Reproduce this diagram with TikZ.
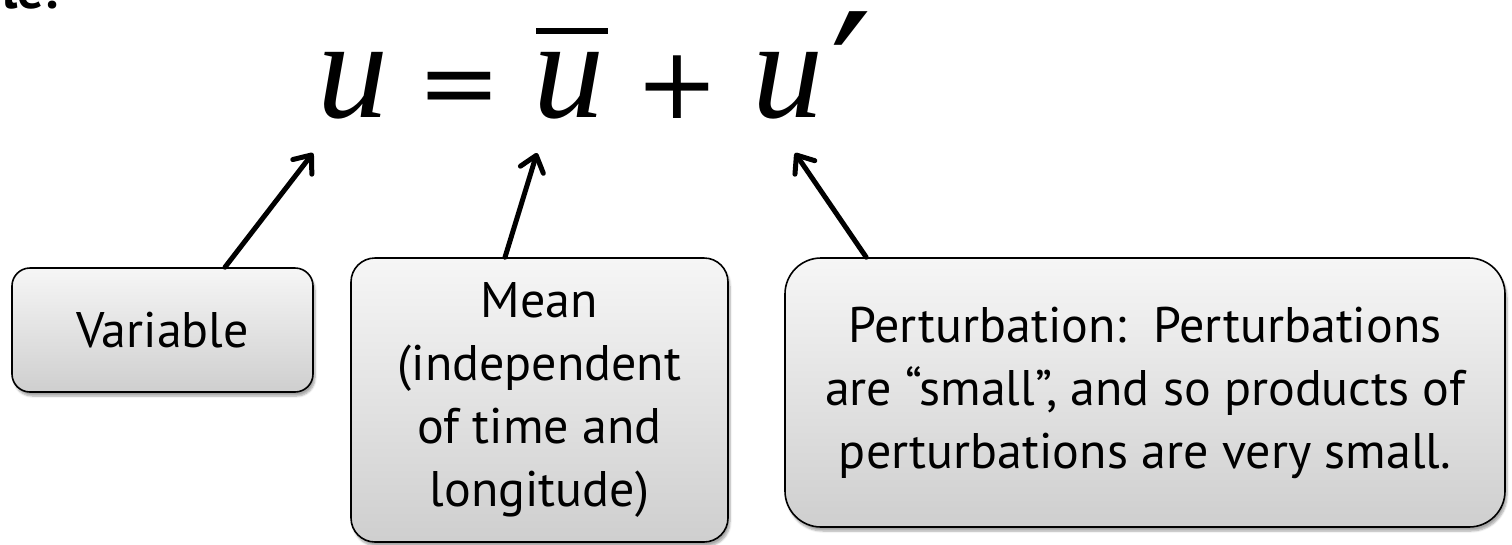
\documentclass[tikz,border=0pt]{standalone}
\usepackage{fontspec}
\setmainfont{PT Sans}
\newfontfamily\eqfont{Liberation Serif}
\newfontfamily\opfont{DejaVu Serif}
\newfontfamily\primefont{DejaVu Sans}
\usetikzlibrary{arrows.meta,shadows.blur}
\begin{document}
\begin{tikzpicture}[x=1pt,y=-1pt,
  callout/.style={draw=black, line width=1.6pt, top color=gray!7, bottom color=gray!38,
    align=center, font=\fontsize{50}{63}\selectfont, inner sep=0pt,
    blur shadow={shadow xshift=2pt, shadow yshift=-4pt, shadow blur steps=6, shadow opacity=35}},
  eqsym/.style={font=\eqfont\fontsize{142}{142}\selectfont, inner sep=0pt, anchor=base},
  opsym/.style={font=\opfont\fontsize{100}{100}\selectfont, inner sep=0pt, anchor=base},
  ptr/.style={line width=5pt, line cap=round, -{Straight Barb[length=15pt,width=24pt,round]}}
]
\useasboundingbox (0,0) rectangle (1512,544);

% title remnant
\node[font=\bfseries\fontsize{52}{52}\selectfont, anchor=base west, inner sep=0pt] (ttl) at (2,8) {le:};

% equation
\node[eqsym] (u1) at (353,117) {\itshape u};
\node[opsym] (eq) at (459,117) {=};
\node[eqsym] (u2) at (569,117) {\itshape u};
\draw[line width=6pt] ([xshift=-33pt,yshift=21pt]u2.north) -- ([xshift=39pt,yshift=21pt]u2.north);
\node[opsym] (plus) at (677,118) {+};
\node[eqsym] (u3) at (788,117) {\itshape u};
\node[font=\primefont\fontsize{185}{185}\selectfont, inner sep=0pt, anchor=base west] (pr) at (830,146) {′};

% callouts
\node[callout, rounded corners=18pt, minimum width=301pt, minimum height=124pt] (var) at (162.5,330) {Variable};
\node[callout, rounded corners=24pt, minimum width=377pt, minimum height=284pt] (mean) at (539.5,400)
  {Mean\\(independent\\of time and\\longitude)};
\node[callout, rounded corners=36pt, minimum width=720pt, minimum height=269pt] (pert) at (1145,392.5)
  {Perturbation:\ \ Perturbations\\are ``small'', and so products of\\perturbations are very small.};

% pointers
\coordinate (t1) at (313,153);
\coordinate (t2) at (537,153);
\coordinate (t3) at (795,153);
\draw[ptr] ([xshift=62.5pt]var.north) -- (t1);
\draw[ptr] ([xshift=-34.5pt]mean.north) -- (t2);
\draw[ptr] ([xshift=82pt]pert.north west) -- (t3);
\end{tikzpicture}
\end{document}
